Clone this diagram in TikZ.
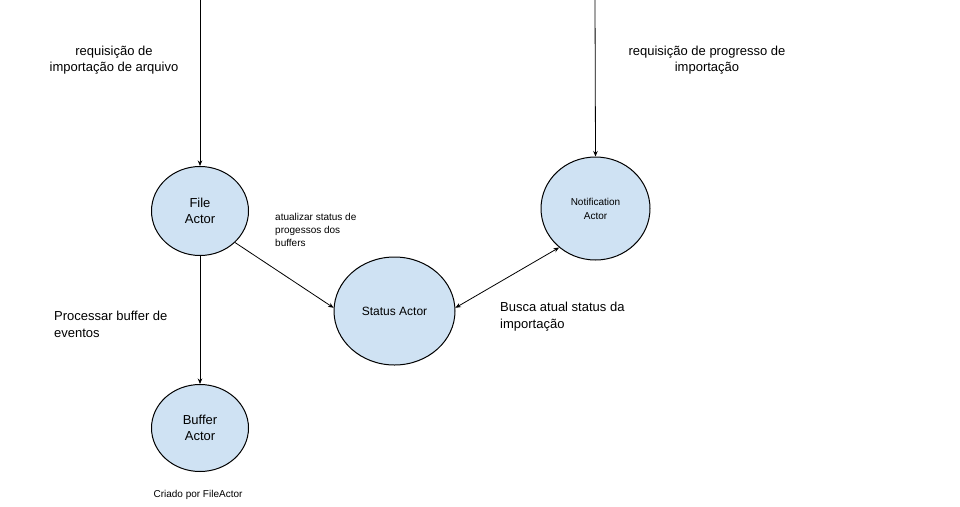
\documentclass[tikz,border=0pt]{standalone}
\usepackage{fontspec}
\setmainfont{Liberation Sans}
\usetikzlibrary{shapes.geometric,arrows.meta}
\definecolor{actorfill}{HTML}{CFE2F3}
\tikzset{
  actor/.style={ellipse,draw=black,line width=1pt,fill=actorfill,inner sep=0pt,align=center},
  conn/.style={draw=black,line width=0.8pt,-{Stealth[length=5.5pt,width=4.5pt]}},
  biconn/.style={draw=black,line width=0.8pt,{Stealth[length=5.5pt,width=4.5pt]}-{Stealth[length=5.5pt,width=4.5pt]}},
  lbl/.style={inner sep=0pt,font=\fontsize{13}{16.5}\selectfont},
  smalllbl/.style={inner sep=0pt,font=\fontsize{10}{13}\selectfont},
}
\begin{document}
\begin{tikzpicture}[x=1pt,y=-1pt]
\useasboundingbox[fill=white] (0,0) rectangle (960,506);
% actors
\node[actor,minimum width=97pt,minimum height=89pt,font=\fontsize{13}{16.5}\selectfont] (file) at (200,211) {File\\Actor};
\node[actor,minimum width=97pt,minimum height=87pt,font=\fontsize{13}{16.5}\selectfont] (buffer) at (200,428) {Buffer\\Actor};
\node[actor,minimum width=121pt,minimum height=108pt,font=\fontsize{12}{15}\selectfont] (status) at (394.5,311) {Status Actor};
\node[actor,minimum width=109pt,minimum height=103pt,font=\fontsize{10}{14}\selectfont] (notif) at (595.5,208.5) {Notification\\Actor};
% free ends
\coordinate (filein) at (200,0);
\coordinate (notifin) at (595,0);
% connectors
\draw[conn] (filein) -- (file.north);
\draw[conn] (notifin) -- (notif.north);
\draw[conn] (file.south) -- (buffer.north);
\draw[conn] (file.-42) -- (status.177);
\draw[biconn] (status.3) -- (notif.-133);
% labels
\node[lbl,align=center] (l1) at (114,60) {requisição de\\importação de arquivo};
\node[lbl,align=center] (l2) at (707,60) {requisição de progresso de\\importação};
\node[smalllbl,align=left,anchor=west] (l3) at (275,229.5) {atualizar status de\\progessos dos\\buffers};
\node[lbl,align=left,anchor=west] (l4) at (54,324.5) {Processar buffer de\\eventos};
\node[lbl,align=left,anchor=west] (l5) at (500,316.5) {Busca atual status da\\importação};
\node[smalllbl] (l6) at (198,494.5) {Criado por FileActor};
\end{tikzpicture}
\end{document}
